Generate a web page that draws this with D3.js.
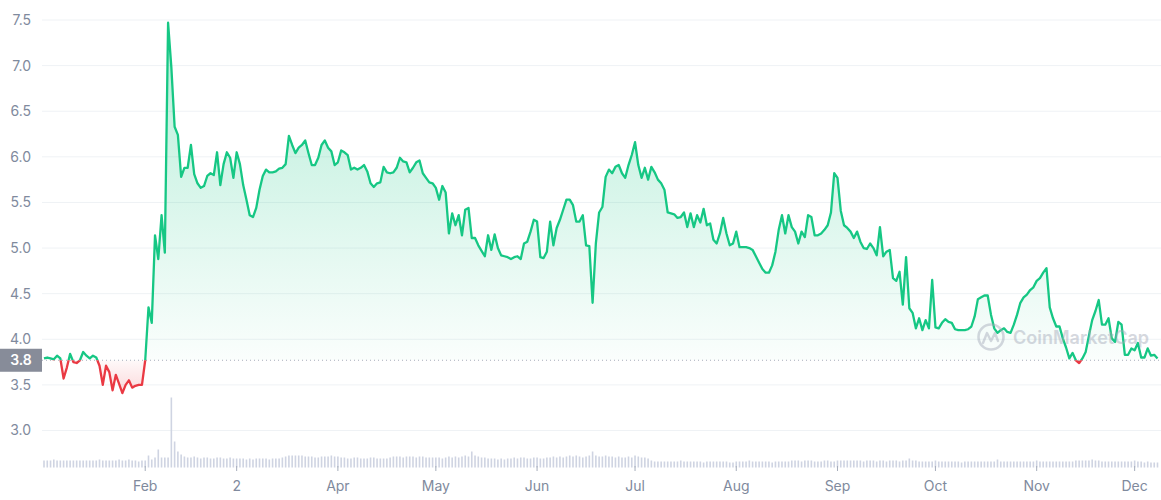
<!DOCTYPE html>
<html><head><meta charset="utf-8">
<script src="https://cdn.jsdelivr.net/npm/d3@7"></script>
<style>body{margin:0;background:#fff;} svg{display:block;font-family:Inter,"Open Sans",sans-serif;}</style>
</head><body><svg id="c" width="1161" height="500"></svg>
<script>
// ---- data (daily closing price, USD) ----
const priceJan=[3.79,3.80,3.79,3.78,3.82,3.79,3.57,3.69,3.84,3.75,3.74,3.77,3.86,3.82,3.79,3.82,3.80,3.71,3.50,3.71,3.64,3.44,3.61,3.51,3.41,3.50,3.55,3.47,3.49,3.50,3.50];
const priceFeb=[3.77,4.35,4.18,5.14,4.88,5.36,4.95,7.47,6.98,6.33,6.24,5.78,5.88,5.88,6.13,5.81,5.71,5.66,5.68,5.79,5.82,5.80,6.05,5.69,5.92,6.05,5.99,5.77];
const priceMar=[6.05,5.92,5.69,5.53,5.36,5.34,5.44,5.64,5.79,5.86,5.83,5.83,5.84,5.87,5.88,5.92,6.23,6.13,6.04,6.10,6.13,6.18,6.04,5.91,5.91,5.99,6.13,6.18,6.10,6.06,5.91];
const priceApr=[5.94,6.07,6.05,6.02,5.86,5.88,5.86,5.88,5.91,5.84,5.71,5.67,5.71,5.72,5.89,5.83,5.82,5.83,5.88,5.99,5.95,5.94,5.83,5.88,5.94,5.96,5.82,5.77,5.72,5.71];
const priceMay=[5.66,5.53,5.68,5.61,5.16,5.38,5.25,5.36,5.14,5.42,5.44,5.11,5.11,5.03,4.97,4.91,5.14,4.98,5.15,5.00,4.92,4.91,4.90,4.88,4.90,4.91,4.88,5.05,5.07,5.18,5.31];
const priceJun=[5.29,4.90,4.89,4.96,5.29,5.03,5.22,5.31,5.42,5.53,5.53,5.47,5.29,5.29,5.36,5.03,5.02,4.40,5.05,5.39,5.45,5.78,5.86,5.82,5.89,5.91,5.82,5.77,5.91,6.02];
const priceJul=[6.16,5.91,5.77,5.88,5.75,5.89,5.83,5.75,5.71,5.64,5.39,5.38,5.37,5.33,5.34,5.39,5.23,5.38,5.23,5.36,5.28,5.43,5.25,5.27,5.09,5.05,5.16,5.33,5.16,5.03,5.05];
const priceAug=[5.18,5.01,5.01,5.01,5.00,4.98,4.91,4.84,4.77,4.73,4.73,4.81,4.96,5.20,5.36,5.16,5.36,5.23,5.18,5.05,5.18,5.12,5.36,5.34,5.14,5.14,5.16,5.20,5.25,5.39,5.82];
const priceSep=[5.77,5.41,5.25,5.22,5.18,5.11,5.18,5.07,5.00,4.99,5.05,5.00,4.92,5.23,4.91,4.96,4.98,4.67,4.64,4.74,4.38,4.90,4.34,4.29,4.12,4.23,4.10,4.21,4.12,4.65];
const priceOct=[4.13,4.12,4.18,4.22,4.19,4.18,4.11,4.10,4.10,4.10,4.11,4.14,4.25,4.44,4.46,4.48,4.48,4.27,4.12,4.07,4.10,4.12,4.08,4.07,4.16,4.27,4.40,4.46,4.49,4.54,4.57];
const priceNov=[4.64,4.67,4.73,4.78,4.35,4.23,4.14,4.14,4.01,3.91,3.79,3.85,3.77,3.74,3.79,3.86,4.04,4.21,4.31,4.43,4.16,4.16,4.23,4.01,3.97,4.19,4.16,3.83,3.83,3.90];
const priceDec=[3.88,3.96,3.80,3.80,3.90,3.82,3.83,3.79];

// daily volume (relative units, millions)
const volJan=[7,7,7,8,7,7,7,7,7,7,7,7,7,7,7,7,7,8,7,7,7,7,7,8,7,7,8,7,7,6,7];
const volFeb=[7,12,8,10,18,10,10,10,70,26,16,13,11,10,10,11,10,9,10,10,9,9,10,10,9,9,10,9];
const volMar=[9,9,9,8,9,8,9,9,9,9,8,9,9,9,10,11,12,12,12,12,12,11,11,11,10,10,11,11,11,12,11];
const volApr=[11,10,10,9,9,10,10,9,9,9,10,10,9,9,9,9,10,11,11,11,10,11,11,11,10,11,11,10,10,10];
const volMay=[10,10,9,10,11,10,11,10,11,12,11,16,12,11,10,10,9,9,9,8,9,8,9,9,10,9,10,10,9,9,10];
const volJun=[10,9,9,10,10,11,10,11,10,11,12,11,12,11,10,11,12,16,12,11,11,12,11,11,10,11,10,10,11,10];
const volJul=[12,11,10,10,9,7,6,6,6,6,6,6,6,6,7,6,6,6,6,6,6,5,6,6,6,6,6,6,6,5,5];
const volAug=[6,6,6,6,7,6,6,6,6,6,6,5,6,6,6,6,6,7,7,7,6,7,7,7,6,6,6,7,7,6,6];
const volSep=[7,7,7,7,7,7,7,7,6,7,7,7,6,7,7,6,7,7,7,6,7,7,9,7,7,6,6,6,6,6];
const volOct=[7,6,6,6,6,6,6,6,5,6,6,6,6,6,6,6,6,6,6,8,6,6,6,6,6,6,6,6,6,6,6];
const volNov=[7,6,6,6,6,6,6,6,6,6,6,6,7,7,7,7,7,8,7,7,6,6,6,6,6,6,6,6,6,6];
const volDec=[7,6,6,5,6,5,5,5];

const yTicks=[3.0,3.5,4.0,4.5,5.0,5.5,6.0,6.5,7.0,7.5];
const tickDates=["2022-02-01","2022-03-01","2022-04-01","2022-05-01","2022-06-01","2022-07-01","2022-08-01","2022-09-01","2022-10-01","2022-11-01","2022-12-01"];
const tickLabels=["Feb","2","Apr","May","Jun","Jul","Aug","Sep","Oct","Nov","Dec"];
const baseline=3.77;
const baselineLabel="3.8";

// ---- build ----
const priceMonths=[priceJan,priceFeb,priceMar,priceApr,priceMay,priceJun,priceJul,priceAug,priceSep,priceOct,priceNov,priceDec];
const volMonths=[volJan,volFeb,volMar,volApr,volMay,volJun,volJul,volAug,volSep,volOct,volNov,volDec];
const data=[];
priceMonths.forEach((arr,m)=>arr.forEach((p,i)=>data.push({date:new Date(Date.UTC(2022,m,1+i)),price:p,vol:volMonths[m][i]})));

const W=1161,H=500,left=42;
const svg=d3.select("#c");
const x=d3.scaleUtc().domain([data[0].date,data[data.length-1].date]).range([44,1157.5]);
const y=d3.scaleLinear().domain([3,7.5]).range([430.5,20]);
const vy=d3.scaleLinear().domain([0,70]).range([467.5,397.5]);
const yb=y(baseline);
const green="#16c784",red="#ea3943",grey="#808a9d";

const defs=svg.append("defs");
const gg=defs.append("linearGradient").attr("id","gG").attr("gradientUnits","userSpaceOnUse").attr("x1",0).attr("x2",0).attr("y1",y(7.5)).attr("y2",yb);
gg.append("stop").attr("offset","0").attr("stop-color",green).attr("stop-opacity",0.32);
gg.append("stop").attr("offset","1").attr("stop-color",green).attr("stop-opacity",0.02);
const rg=defs.append("linearGradient").attr("id","gR").attr("gradientUnits","userSpaceOnUse").attr("x1",0).attr("x2",0).attr("y1",yb).attr("y2",y(3.35));
rg.append("stop").attr("offset","0").attr("stop-color",red).attr("stop-opacity",0.03);
rg.append("stop").attr("offset","1").attr("stop-color",red).attr("stop-opacity",0.22);
defs.append("clipPath").attr("id","cA").append("rect").attr("x",0).attr("y",0).attr("width",W).attr("height",yb);
defs.append("clipPath").attr("id","cB").append("rect").attr("x",0).attr("y",yb).attr("width",W).attr("height",H-yb);

// grid + y labels
svg.append("g").selectAll("line").data(yTicks).join("line")
  .attr("x1",left).attr("x2",W).attr("y1",d=>y(d)).attr("y2",d=>y(d))
  .attr("stroke","#eff2f5").attr("stroke-width",1);
svg.append("g").selectAll("text").data(yTicks).join("text")
  .attr("x",31).attr("y",d=>y(d)).attr("dy","0.35em").attr("text-anchor","end")
  .attr("fill",grey).attr("font-size",14).text(d=>d.toFixed(1));

// volume
svg.append("g").selectAll("rect").data(data).join("rect")
  .attr("x",d=>x(d.date)-0.8).attr("width",1.6)
  .attr("y",d=>vy(d.vol)).attr("height",d=>vy(0)-vy(d.vol))
  .attr("fill","#cfd4e2");

// x axis ticks and labels
const td=tickDates.map(s=>new Date(s+"T00:00:00Z"));
svg.append("g").selectAll("line").data(td).join("line")
  .attr("x1",d=>x(d)).attr("x2",d=>x(d)).attr("y1",466).attr("y2",471)
  .attr("stroke","#a6adbb").attr("stroke-width",1);
svg.append("g").selectAll("text").data(td).join("text")
  .attr("x",d=>x(d)).attr("y",491).attr("text-anchor","middle")
  .attr("fill",grey).attr("font-size",14).text((d,i)=>tickLabels[i]);

// areas
const area=d3.area().x(d=>x(d.date)).y0(yb).y1(d=>y(d.price));
svg.append("path").datum(data).attr("d",area).attr("fill","url(#gG)").attr("clip-path","url(#cA)");
svg.append("path").datum(data).attr("d",area).attr("fill","url(#gR)").attr("clip-path","url(#cB)");

// baseline
svg.append("line").attr("x1",left).attr("x2",W).attr("y1",yb).attr("y2",yb)
  .attr("stroke","#a6adbb").attr("stroke-width",1).attr("stroke-dasharray","1,3");

// lines
const line=d3.line().x(d=>x(d.date)).y(d=>y(d.price));
svg.append("path").datum(data).attr("d",line).attr("fill","none").attr("stroke",green).attr("stroke-width",2.3).attr("stroke-linejoin","round").attr("clip-path","url(#cA)");
svg.append("path").datum(data).attr("d",line).attr("fill","none").attr("stroke",red).attr("stroke-width",2.3).attr("stroke-linejoin","round").attr("clip-path","url(#cB)");

// baseline label
svg.append("rect").attr("x",0).attr("y",yb-11.5).attr("width",left).attr("height",23).attr("fill","#878c99");
svg.append("text").attr("x",21).attr("y",yb).attr("dy","0.35em").attr("text-anchor","middle")
  .attr("fill","#fff").attr("font-size",14).attr("font-weight",600).text(baselineLabel);

// watermark
const wm=svg.append("g").attr("opacity",0.45).attr("fill","none").attr("stroke","#a3a9b8");
wm.append("circle").attr("cx",991).attr("cy",337).attr("r",12.5).attr("stroke-width",2.6);
wm.append("path").attr("d","M983,343 L987,333 L991,341 L995,333 L998,341").attr("stroke-width",2.4).attr("stroke-linejoin","round").attr("stroke-linecap","round");
svg.append("text").attr("x",1013).attr("y",344).attr("fill","#a3a9b8").attr("opacity",0.45)
  .attr("font-size",18).attr("font-weight",600)
  .attr("textLength",136).attr("lengthAdjust","spacingAndGlyphs").text("CoinMarketCap");
</script></body></html>
